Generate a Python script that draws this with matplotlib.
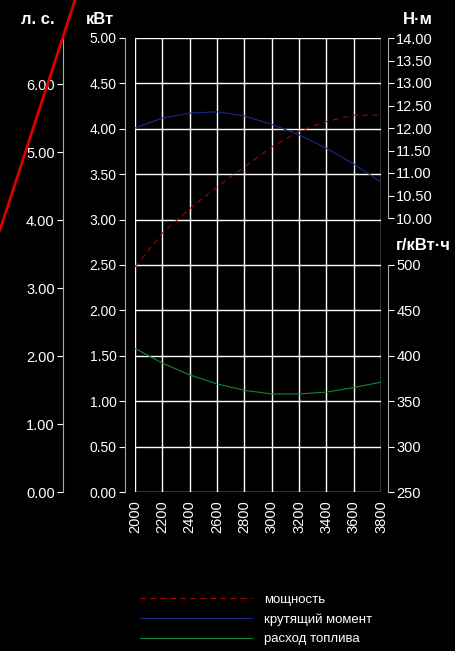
import matplotlib
matplotlib.use("Agg")
import matplotlib.pyplot as plt
from matplotlib.lines import Line2D

plt.rcParams['font.family'] = ['Liberation Sans', 'DejaVu Sans']

rpm = [2000, 2200, 2400, 2600, 2800, 3000, 3200, 3400, 3600, 3800]
power_kw = [2.48, 2.85, 3.12, 3.36, 3.58, 3.80, 3.97, 4.08, 4.15, 4.15]
torque_nm = [12.00, 12.22, 12.33, 12.36, 12.27, 12.08, 11.85, 11.55, 11.20, 10.80]
fuel = [408, 392, 379, 369, 362, 358, 358, 360, 365, 371]
xticks = list(range(2000, 3801, 200))

PX = 72/100
FS = 10.5

fig = plt.figure(figsize=(4.55, 6.51), dpi=100, facecolor="black")
ax = fig.add_axes([135/455, 1-492/651, 246/455, 454/651])
ax.set_facecolor("black")
ax.set_xlim(2000, 3800)
ax.set_ylim(0, 5)
ax.set_xticks(xticks)
ax.set_xticklabels([str(t) for t in xticks], rotation=90, color="white", fontsize=FS)
ax.set_yticks([i*0.5 for i in range(11)])
ax.set_yticklabels([f"{i*0.5:.2f}" for i in range(11)], color="white", fontsize=FS)
ax.grid(True, color="white", lw=1)
for s in ["top", "right", "bottom"]:
    ax.spines[s].set_visible(False)
ax.spines["left"].set_position(("outward", 10*PX))
ax.spines["left"].set_color("#aaaaaa")
ax.tick_params(axis="y", colors="white", length=4, labelcolor="white", pad=2)
ax.tick_params(axis="x", length=0, labelcolor="white", pad=6)
ax.plot(rpm, power_kw, color="#aa0000", ls=(0, (5, 4)), lw=0.8)

ahp = ax.twinx()
ahp.set_ylim(0, 6.68)
ahp.yaxis.set_ticks_position("left")
ahp.spines["left"].set_visible(True)
ahp.spines["left"].set_position(("outward", 72*PX))
ahp.spines["left"].set_color("#aaaaaa")
for s in ["top", "right", "bottom"]:
    ahp.spines[s].set_visible(False)
ahp.set_yticks(range(7))
ahp.set_yticklabels([f"{i:.2f}" for i in range(7)], color="white", fontsize=FS)
ahp.tick_params(axis="y", colors="white", length=4, labelcolor="white", pad=2)

tt = [10, 10.5, 11, 11.5, 12, 12.5, 13, 13.5, 14]
at = ax.twinx()
at.set_ylim(14 - 454/45, 14)
at.spines["right"].set_position(("outward", 7*PX))
at.spines["right"].set_bounds(10, 14)
at.spines["right"].set_color("#aaaaaa")
for s in ["top", "left", "bottom"]:
    at.spines[s].set_visible(False)
at.set_yticks(tt)
at.set_yticklabels([f"{v:.2f}" for v in tt], color="white", fontsize=FS)
at.tick_params(axis="y", colors="white", length=4, labelcolor="white", pad=2)
at.plot(rpm, torque_nm, color="#1a2a8a", lw=0.8)

af = ax.twinx()
af.set_ylim(250, 500 + 227/0.908)
af.spines["right"].set_position(("outward", 7*PX))
af.spines["right"].set_bounds(250, 500)
af.spines["right"].set_color("#aaaaaa")
for s in ["top", "left", "bottom"]:
    af.spines[s].set_visible(False)
af.set_yticks(range(250, 501, 50))
af.set_yticklabels([str(v) for v in range(250, 501, 50)], color="white", fontsize=FS)
af.tick_params(axis="y", colors="white", length=4, labelcolor="white", pad=2)
af.plot(rpm, fuel, color="#118833", lw=0.8)

kw = dict(color="white", fontsize=12, fontweight="bold", transform=fig.transFigure)
fig.text(38/455, 1-20/651, "л. с.", ha="center", va="center", **kw)
fig.text(100/455, 1-20/651, "кВт", ha="center", va="center", **kw)
fig.text(418/455, 1-20/651, "Н·м", ha="center", va="center", **kw)
fig.text(396/455, 1-245/651, "г/кВт·ч", ha="left", va="center", **kw)

fig.add_artist(Line2D([0, 75/455], [1-230/651, 1], color="#dd0000", lw=2, transform=fig.transFigure))

h = [Line2D([], [], color="#aa0000", ls=(0, (5, 4)), lw=0.8),
     Line2D([], [], color="#1a2a8a", lw=0.8),
     Line2D([], [], color="#118833", lw=0.8)]
leg = fig.legend(h, ["мощность", "крутящий момент", "расход топлива"],
                 loc="lower left", bbox_to_anchor=(128/455, -6/651), frameon=False,
                 handlelength=8.5, fontsize=9.5, labelspacing=0.55, handletextpad=0.9)
for t in leg.get_texts():
    t.set_color("white")

fig.savefig("out.png", dpi=100, facecolor="black")
